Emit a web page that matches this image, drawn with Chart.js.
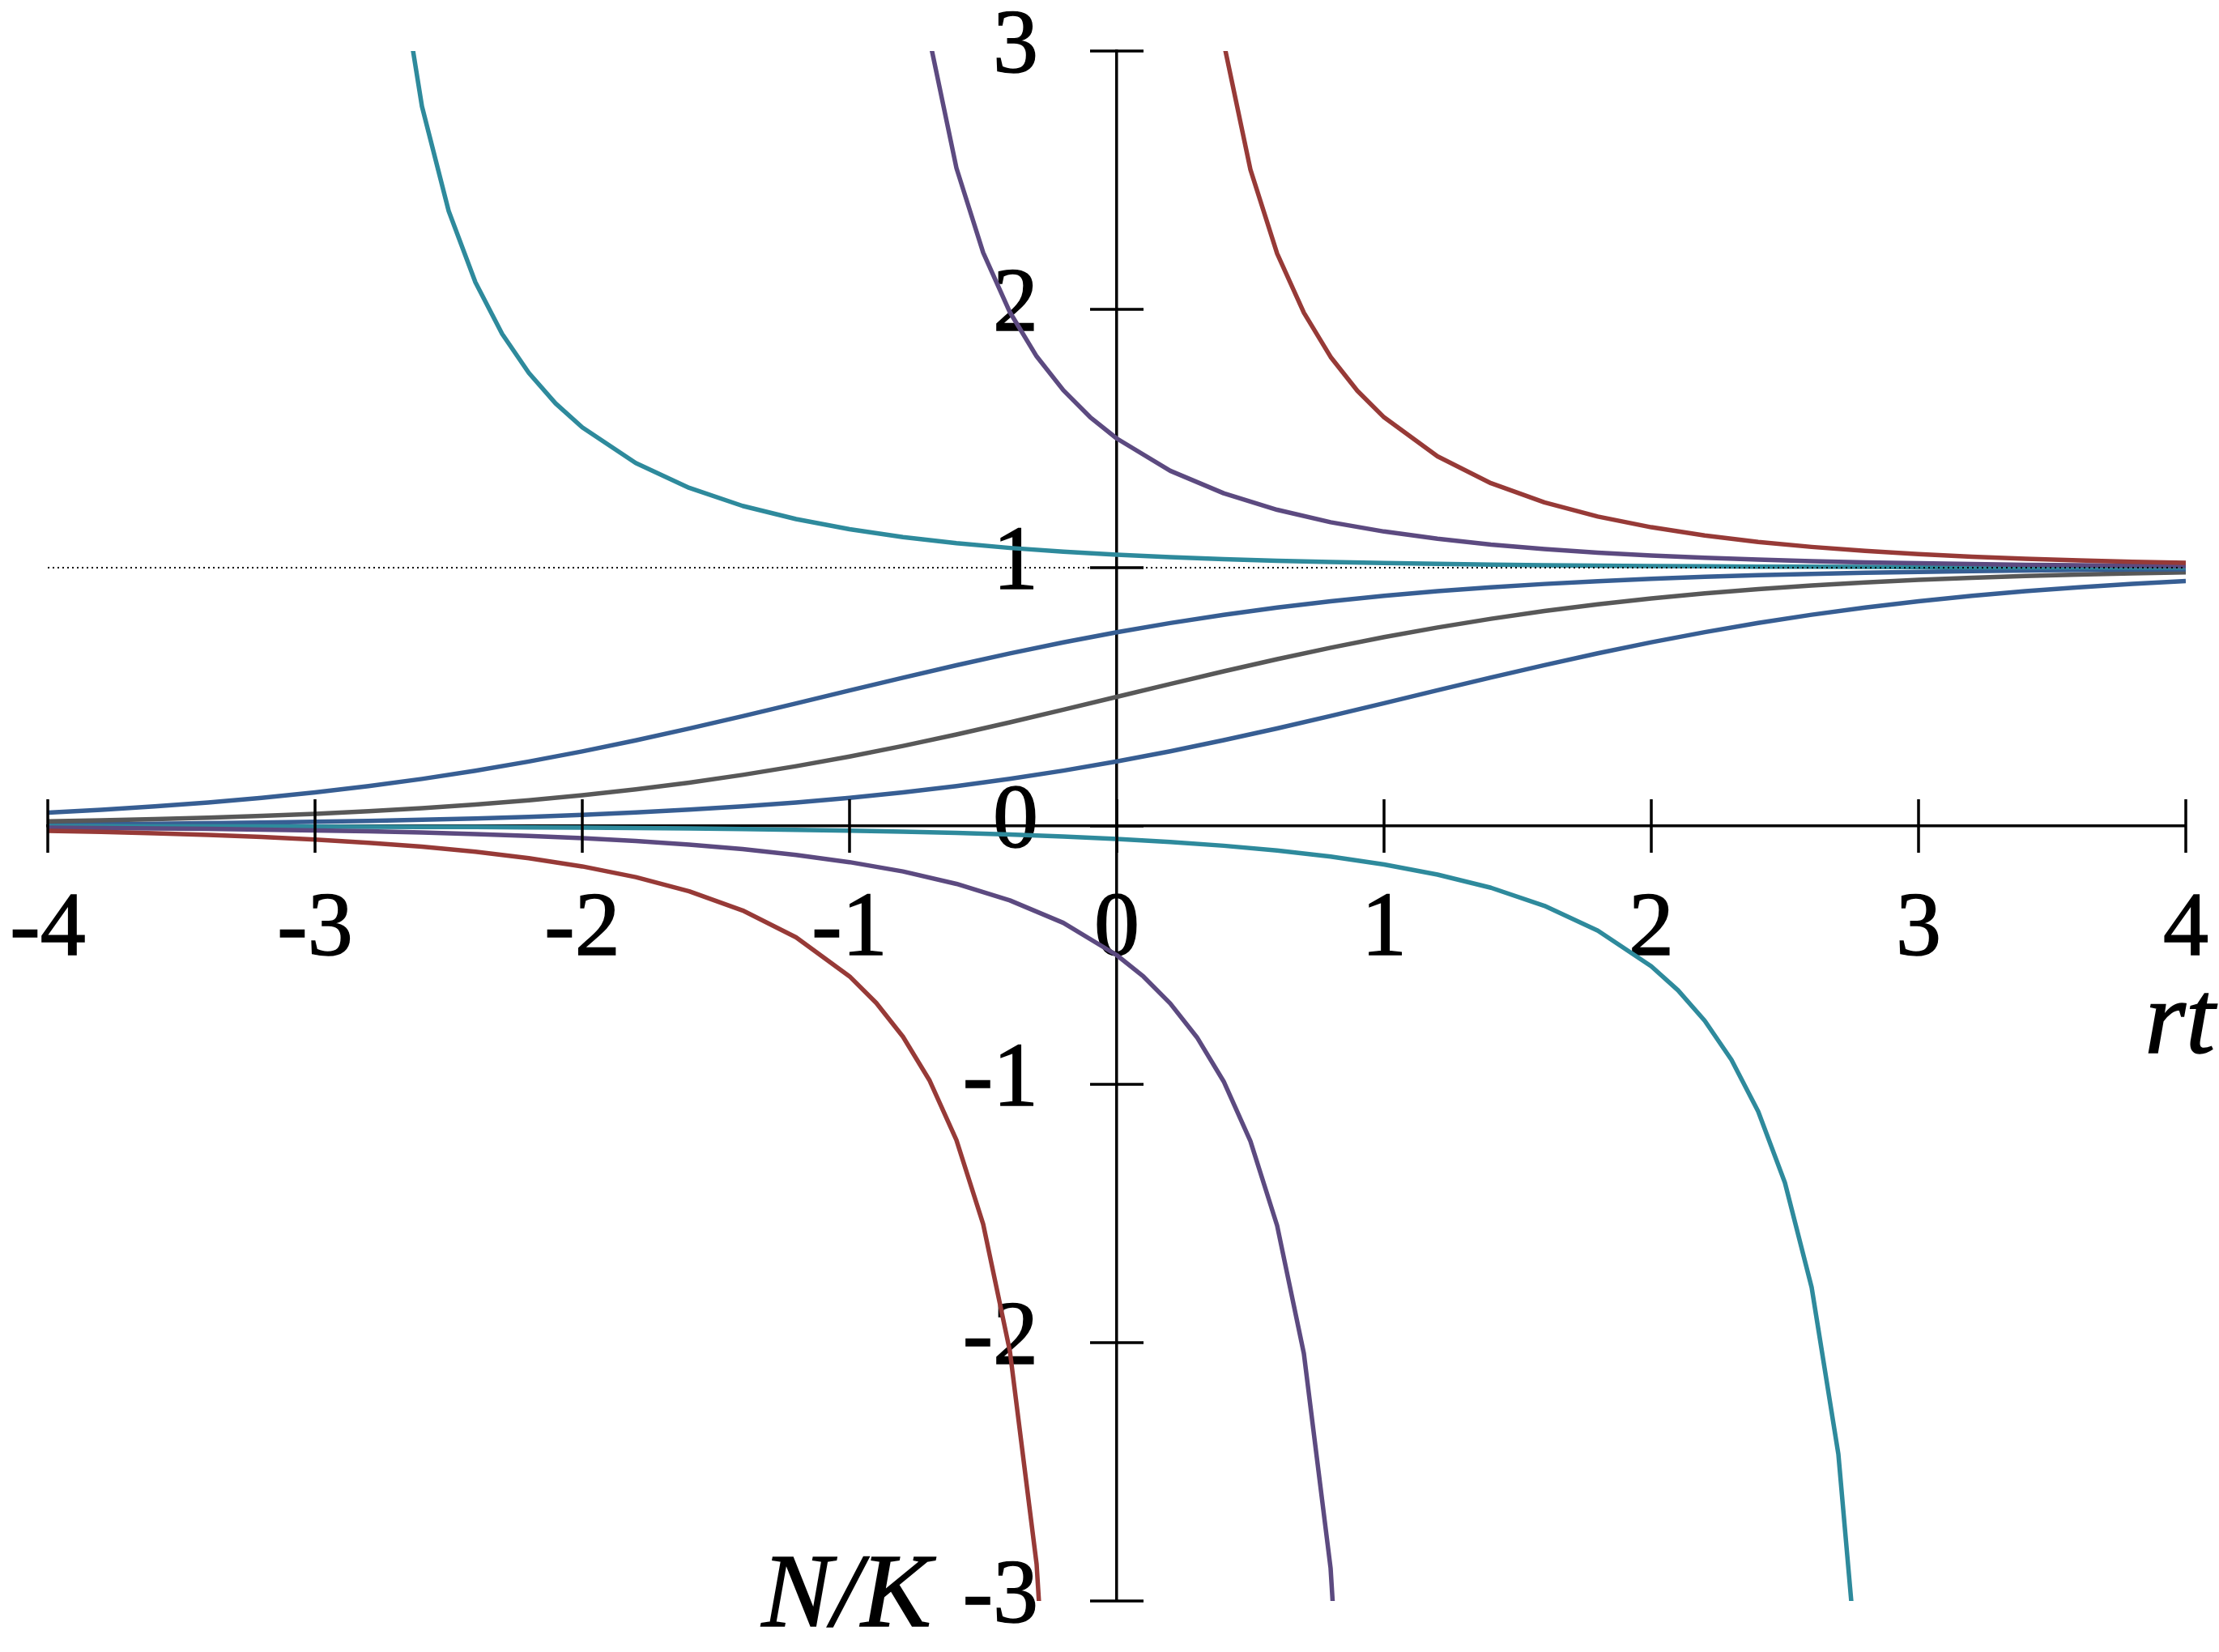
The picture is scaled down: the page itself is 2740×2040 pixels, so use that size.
<!DOCTYPE html>
<html>
<head>
<meta charset="utf-8">
<script src="https://cdn.jsdelivr.net/npm/chart.js@4.4.1/dist/chart.umd.min.js"></script>
<style>
html,body{margin:0;padding:0;background:#fff;overflow:hidden}
canvas{display:block}
</style>
</head>
<body>
<canvas id="c" width="2740" height="2040"></canvas>
<script>
// ---------- data ----------
const X_TICKS = [-4, -3, -2, -1, 0, 1, 2, 3, 4];
const X_TICK_LABELS = ['-4', '-3', '-2', '-1', '0', '1', '2', '3', '4'];
const Y_TICKS = [-3, -2, -1, 0, 1, 2, 3];
const Y_TICK_LABELS = ['-3', '-2', '-1', '0', '1', '2', '3'];
const X_TITLE = 'rt';
const Y_TITLE = 'N/K';

const CARRYING = [1, 1];          // dotted reference line N/K = 1
const CARRYING_X = [-4, 4];

const X_GRID = [-4,-3.8,-3.6,-3.4,-3.2,-3,-2.8,-2.6,-2.4,-2.2,-2,-1.8,-1.6,-1.4,-1.2,-1,-0.8,-0.6,-0.4,-0.2,0,0.2,0.4,0.6,0.8,1,1.2,1.4,1.6,1.8,2,2.2,2.4,2.6,2.8,3,3.2,3.4,3.6,3.8,4];

// N0/K = 0.75
const sigHigh = [0.0521,0.0629,0.0758,0.0910,0.1090,0.1300,0.1543,0.1822,0.2139,0.2495,0.2888,0.3315,0.3772,0.4252,0.4746,0.5247,0.5741,0.6221,0.6679,0.7107,0.75,0.7856,0.8174,0.8454,0.8697,0.8908,0.9088,0.9240,0.9369,0.9478,0.9568,0.9644,0.9707,0.9758,0.9801,0.9837,0.9866,0.9890,0.9910,0.9926,0.9939];
// N0/K = 0.5
const sigMid = [0.0180,0.0219,0.0266,0.0323,0.0392,0.0474,0.0573,0.0691,0.0832,0.0998,0.1192,0.1419,0.1680,0.1978,0.2315,0.2689,0.3100,0.3543,0.4013,0.4502,0.5,0.5498,0.5987,0.6457,0.6900,0.7311,0.7685,0.8022,0.8320,0.8581,0.8808,0.9002,0.9168,0.9309,0.9427,0.9526,0.9608,0.9677,0.9734,0.9781,0.9820];
// N0/K = 0.25
const sigLow = [0.0061,0.0074,0.0090,0.0110,0.0134,0.0163,0.0199,0.0242,0.0293,0.0356,0.0432,0.0522,0.0631,0.0760,0.0912,0.1092,0.1303,0.1546,0.1826,0.2144,0.25,0.2893,0.3321,0.3779,0.4259,0.4753,0.5254,0.5748,0.6228,0.6685,0.7112,0.7505,0.7861,0.8178,0.8457,0.8700,0.8910,0.9090,0.9242,0.9371,0.9479];

// N0/K = 1.05 (teal, above K)
const tealUpX = [-2.7,-2.6,-2.5,-2.4,-2.3,-2.2,-2.1,-2,-1.8,-1.6,-1.4,-1.2,-1,-0.8,-0.6,-0.4,-0.2,0,0.2,0.4,0.6,0.8,1,1.2,1.4,1.6,1.8,2,2.2,2.4,2.6,2.8,3,3.2,3.4,3.6,3.8,4];
const tealUpY = [3.432,2.786,2.381,2.105,1.905,1.754,1.636,1.543,1.405,1.309,1.239,1.188,1.149,1.1186,1.0950,1.0764,1.0618,1.05,1.0406,1.0330,1.0268,1.0219,1.0178,1.0145,1.0119,1.0097,1.0079,1.0065,1.0053,1.0043,1.0036,1.0029,1.0024,1.0019,1.0016,1.0013,1.0011,1.0009];
// N0/K = -0.05 (teal, below 0)
const tealLowX = [-4,-3.8,-3.6,-3.4,-3.2,-3,-2.8,-2.6,-2.4,-2.2,-2,-1.8,-1.6,-1.4,-1.2,-1,-0.8,-0.6,-0.4,-0.2,0,0.2,0.4,0.6,0.8,1,1.2,1.4,1.6,1.8,2,2.1,2.2,2.3,2.4,2.5,2.6,2.7,2.8];
const tealLowY = [-0.0009,-0.0011,-0.0013,-0.0016,-0.0019,-0.0024,-0.0029,-0.0036,-0.0043,-0.0053,-0.0065,-0.0079,-0.0097,-0.0119,-0.0145,-0.0178,-0.0219,-0.0268,-0.0330,-0.0406,-0.05,-0.0618,-0.0764,-0.0950,-0.1186,-0.149,-0.188,-0.239,-0.309,-0.405,-0.543,-0.636,-0.754,-0.905,-1.105,-1.381,-1.786,-2.432,-3.61];

// N0/K = 1.5 (purple, above K)
const purpleUpX = [-0.8,-0.7,-0.6,-0.5,-0.4,-0.3,-0.2,-0.1,0,0.2,0.4,0.6,0.8,1,1.2,1.4,1.6,1.8,2,2.2,2.4,2.6,2.8,3,3.2,3.4,3.6,3.8,4];
const purpleUpY = [3.873,3.042,2.547,2.220,1.989,1.818,1.687,1.583,1.5,1.375,1.288,1.224,1.176,1.140,1.112,1.0896,1.0722,1.0583,1.0472,1.0383,1.0312,1.0254,1.0207,1.0169,1.0138,1.0113,1.0092,1.0075,1.0061];
// N0/K = -0.5 (purple, below 0)
const purpleLowX = [-4,-3.8,-3.6,-3.4,-3.2,-3,-2.8,-2.6,-2.4,-2.2,-2,-1.8,-1.6,-1.4,-1.2,-1,-0.8,-0.6,-0.4,-0.2,0,0.1,0.2,0.3,0.4,0.5,0.6,0.7,0.8,0.9];
const purpleLowY = [-0.0061,-0.0075,-0.0092,-0.0113,-0.0138,-0.0169,-0.0207,-0.0254,-0.0312,-0.0383,-0.0472,-0.0583,-0.0722,-0.0896,-0.112,-0.140,-0.176,-0.224,-0.288,-0.375,-0.5,-0.583,-0.687,-0.818,-0.989,-1.220,-1.547,-2.042,-2.873,-4.55];

// red: branch above K (t > 0) and branch below 0 (t < 0)
const redUpX = [0.3,0.4,0.5,0.6,0.7,0.8,0.9,1,1.2,1.4,1.6,1.8,2,2.2,2.4,2.6,2.8,3,3.2,3.4,3.6,3.8,4];
const redUpY = [3.858,3.033,2.541,2.216,1.987,1.816,1.685,1.582,1.431,1.327,1.253,1.198,1.1565,1.1246,1.0998,1.0803,1.0647,1.0524,1.0425,1.0346,1.0281,1.0229,1.0187];
const redLowX = [-4,-3.8,-3.6,-3.4,-3.2,-3,-2.8,-2.6,-2.4,-2.2,-2,-1.8,-1.6,-1.4,-1.2,-1,-0.9,-0.8,-0.7,-0.6,-0.5,-0.4,-0.3,-0.2];
const redLowY = [-0.0187,-0.0229,-0.0281,-0.0345,-0.0425,-0.0524,-0.0647,-0.0802,-0.0998,-0.1246,-0.1565,-0.198,-0.253,-0.327,-0.431,-0.582,-0.685,-0.816,-0.986,-1.216,-1.541,-2.033,-2.858,-4.517];

// ---------- styling ----------
const TEAL = '#2e8a9c';
const PURPLE = '#5c4a80';
const RED = '#973a37';
const BLUE = '#375e93';
const GREY = '#585858';
const LW = 5.5;
const SERIF = "'Liberation Serif', 'Times New Roman', serif";
const TICK_SIZE = 112;
const TITLE_SIZE = 130;
const TEXT_STROKE = 1.5;

function pts(xs, ys) { return xs.map((x, i) => ({x: x, y: ys[i]})); }
function series(xs, ys, color) {
  return {data: pts(xs, ys), borderColor: color, borderWidth: LW, showLine: true,
          pointRadius: 0, tension: 0, fill: false, borderJoinStyle: 'round'};
}

const datasets = [
  {data: pts(CARRYING_X, CARRYING), borderColor: '#000', borderWidth: 2, borderDash: [2, 4],
   showLine: true, pointRadius: 0, fill: false},
  series(redUpX, redUpY, RED),
  series(redLowX, redLowY, RED),
  series(purpleUpX, purpleUpY, PURPLE),
  series(purpleLowX, purpleLowY, PURPLE),
  series(tealUpX, tealUpY, TEAL),
  series(tealLowX, tealLowY, TEAL),
  series(X_GRID, sigHigh, BLUE),
  series(X_GRID, sigMid, GREY),
  series(X_GRID, sigLow, BLUE)
];

function drawText(ctx, text, x, y) {
  ctx.strokeText(text, x, y);
  ctx.fillText(text, x, y);
}

const axisDeco = {
  id: 'axisDeco',
  beforeDatasetsDraw(chart) {
    const {ctx, scales: {x, y}} = chart;
    const x0 = x.getPixelForValue(0);
    ctx.save();
    ctx.font = TICK_SIZE + 'px ' + SERIF;
    ctx.fillStyle = '#000';
    ctx.strokeStyle = '#000';
    ctx.lineWidth = TEXT_STROKE;
    ctx.textAlign = 'right';
    ctx.textBaseline = 'middle';
    Y_TICKS.forEach((v, i) => {
      drawText(ctx, Y_TICK_LABELS[i], x0 - 97, y.getPixelForValue(v) - 3);
    });
    ctx.restore();
  },
  afterDraw(chart) {
    const {ctx, scales: {x, y}} = chart;
    const x0 = x.getPixelForValue(0);
    const y0 = y.getPixelForValue(0);
    const half = 33;
    ctx.save();
    ctx.strokeStyle = '#000';
    ctx.lineWidth = 3.5;
    ctx.beginPath();
    X_TICKS.forEach(v => {
      const px = x.getPixelForValue(v);
      ctx.moveTo(px, y0 - half); ctx.lineTo(px, y0 + half);
    });
    Y_TICKS.forEach(v => {
      const py = y.getPixelForValue(v);
      ctx.moveTo(x0 - half, py); ctx.lineTo(x0 + half, py);
    });
    ctx.stroke();
    ctx.fillStyle = '#000';
    ctx.lineWidth = TEXT_STROKE;
    ctx.font = 'italic ' + TITLE_SIZE + 'px ' + SERIF;
    ctx.textBaseline = 'alphabetic';
    ctx.textAlign = 'right';
    drawText(ctx, X_TITLE, x.right + 36, y0 + 280);
    drawText(ctx, Y_TITLE, x0 - 229, y.bottom + 31);
    ctx.restore();
  }
};

function draw() {
  new Chart(document.getElementById('c'), {
    type: 'scatter',
    data: {datasets: datasets},
    options: {
      responsive: false,
      devicePixelRatio: 1,
      animation: false,
      events: [],
      layout: {padding: {left: 59, right: 41, top: 63, bottom: 63}},
      plugins: {legend: {display: false}, tooltip: {enabled: false}},
      scales: {
        x: {
          type: 'linear', min: -4, max: 4, position: {y: 0}, z: 1,
          grid: {display: true, drawOnChartArea: false, drawTicks: false},
          border: {display: true, color: '#000', width: 3.5},
          ticks: {
            stepSize: 1, autoSkip: false, maxRotation: 0, minRotation: 0,
            padding: 0, color: '#000',
            textStrokeWidth: TEXT_STROKE, textStrokeColor: '#000',
            font: {family: SERIF, size: TICK_SIZE, lineHeight: 2.32},
            callback: (v) => { const i = X_TICKS.indexOf(v); return i >= 0 ? X_TICK_LABELS[i] : ''; }
          }
        },
        y: {
          type: 'linear', min: -3, max: 3, position: {x: 0}, z: 1,
          grid: {display: true, drawOnChartArea: false, drawTicks: false},
          border: {display: true, color: '#000', width: 3.5},
          ticks: {display: false, stepSize: 1}
        }
      }
    },
    plugins: [axisDeco]
  });
}

if (document.fonts && document.fonts.load) {
  Promise.all([
    document.fonts.load(TICK_SIZE + "px 'Liberation Serif'"),
    document.fonts.load('italic ' + TITLE_SIZE + "px 'Liberation Serif'")
  ]).then(draw, draw);
} else {
  draw();
}
</script>
</body>
</html>
